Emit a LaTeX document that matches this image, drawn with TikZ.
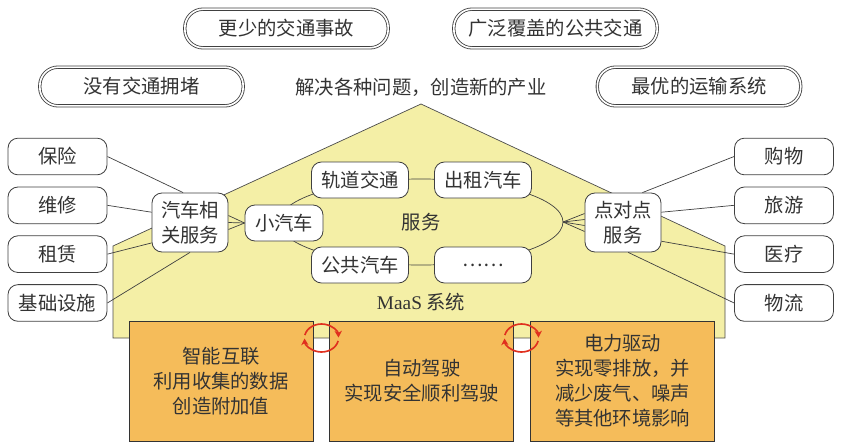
\documentclass[tikz,border=0pt]{standalone}
\usepackage{fontspec}
\setmainfont{Liberation Serif}
\newfontfamily\cjk{Noto Sans CJK SC}
\usetikzlibrary{positioning, arrows.meta}
\definecolor{hcolor}{HTML}{F4EFA6}
\definecolor{ocolor}{HTML}{F5BC5A}
\definecolor{rcolor}{HTML}{E0301E}
\definecolor{tcolor}{HTML}{333333}

\begin{document}
\begin{tikzpicture}[
    x=0.03cm, y=-0.03cm,
    every node/.style={font=\cjk\fontsize{16.5}{21.3}\selectfont, text=tcolor},
    goal/.style={rectangle, draw=black!75, double=white, double distance=1.4pt, line width=0.7pt, rounded corners=0.55cm, fill=white, minimum width=6.1cm, minimum height=1.16cm},
    item/.style={rectangle, draw=black!75, line width=0.7pt, rounded corners=0.3cm, fill=white, minimum width=2.97cm, minimum height=1.1cm, inner sep=0pt},
    hub/.style={item, minimum width=2.28cm, minimum height=1.77cm, align=center},
    mode/.style={item, minimum width=2.91cm, minimum height=1.08cm},
    tech/.style={rectangle, draw=black!80, line width=0.7pt, fill=ocolor, minimum width=5.52cm, minimum height=3.6cm, align=center, inner sep=0pt},
    conn/.style={draw=black!75, line width=0.6pt},
    cyc/.style={rcolor, line width=1.4pt, -{Stealth[length=2mm, width=2.2mm]}},
  ]
    \useasboundingbox (0,0) rectangle (841,446);

    % house
    \draw[draw=black!70, line width=0.6pt, fill=hcolor] (113,338) -- (113,246) -- (421,104) -- (725,246) -- (725,338) -- cycle;
    \coordinate (svc) at (421,222);
    \coordinate (fan) at (563,222);
    \draw[conn] (svc) ellipse [x radius=4.26cm, y radius=1.29cm];

    % goals
    \node[goal] (fewer) at (286.5,28.5) {更少的交通事故};
    \node[goal] (cover) at (555.5,28.5) {广泛覆盖的公共交通};
    \node[goal] (nojam) at (141.5,86.5) {没有交通拥堵};
    \node[goal] (best) at (699,86.5) {最优的运输系统};
    \node (aim) at (421,87) {解决各种问题，创造新的产业};

    % side services
    \node[item] (insure) at (57.5,156.5) {保险};
    \node[item, below=0.34cm of insure] (repair) {维修};
    \node[item, below=0.34cm of repair] (lease) {租赁};
    \node[item, below=0.34cm of lease] (infra) {基础设施};
    \node[item] (shop) at (784,156.5) {购物};
    \node[item, below=0.34cm of shop] (tour) {旅游};
    \node[item, below=0.34cm of tour] (med) {医疗};
    \node[item, below=0.34cm of med] (logi) {物流};

    \node[hub] (carsvc) at (190,222.5) {汽车相\\关服务};
    \node[hub] (p2p) at (623,222.5) {点对点\\服务};

    % modes
    \node[mode, minimum width=2.34cm] (car) at (284,223) {小汽车};
    \node[mode] (rail) at (360,180) {轨道交通};
    \node[mode] (bus) at (360,265) {公共汽车};
    \node[mode] (taxi) at (483,180) {出租汽车};
    \node[mode] (more) at (483,265) {……};
    \node (svclbl) at (svc) {服务};
    \node (maas) at (421,302) {{\rmfamily MaaS} 系统};

    % technologies
    \node[tech] (iot) at (221,381) {智能互联\\利用收集的数据\\创造附加值};
    \node[tech, right=0.48cm of iot] (auto) {自动驾驶\\实现安全顺利驾驶};
    \node[tech, right=0.48cm of auto] (elec) {电力驱动\\实现零排放，并\\减少废气、噪声\\等其他环境影响};

    \draw[conn] (insure.east) -- (carsvc.103);
    \draw[conn] (repair.east) -- (carsvc.165);
    \draw[conn] (lease.east) -- (carsvc.208);
    \draw[conn] (infra.east) -- (carsvc.south);
    \foreach \dy in {-0.21,0,0.21}
      \draw[conn] (car.west) -- ([yshift=\dy cm]carsvc.east);
    \draw[conn] (shop.west) -- (p2p.57);
    \draw[conn] (tour.west) -- (p2p.15);
    \draw[conn] (med.west) -- (p2p.334);
    \draw[conn] (logi.west) -- (p2p.280);
    \foreach \dy in {-0.27,-0.09,0.09,0.27}
      \draw[conn] (fan) -- ([yshift=\dy cm]p2p.west);

    % cycle arrows
    \coordinate (lnk1) at (321.5,338);
    \coordinate (lnk2) at (521.5,338);
    \foreach \c in {lnk1, lnk2} {
      \draw[cyc] ([shift={(168:0.51cm and 0.42cm)}]\c) arc[start angle=168, end angle=2, x radius=0.51cm, y radius=0.42cm];
      \draw[cyc] ([shift={(-12:0.51cm and 0.42cm)}]\c) arc[start angle=-12, end angle=-178, x radius=0.51cm, y radius=0.42cm];
    }
  \end{tikzpicture}
\end{document}
